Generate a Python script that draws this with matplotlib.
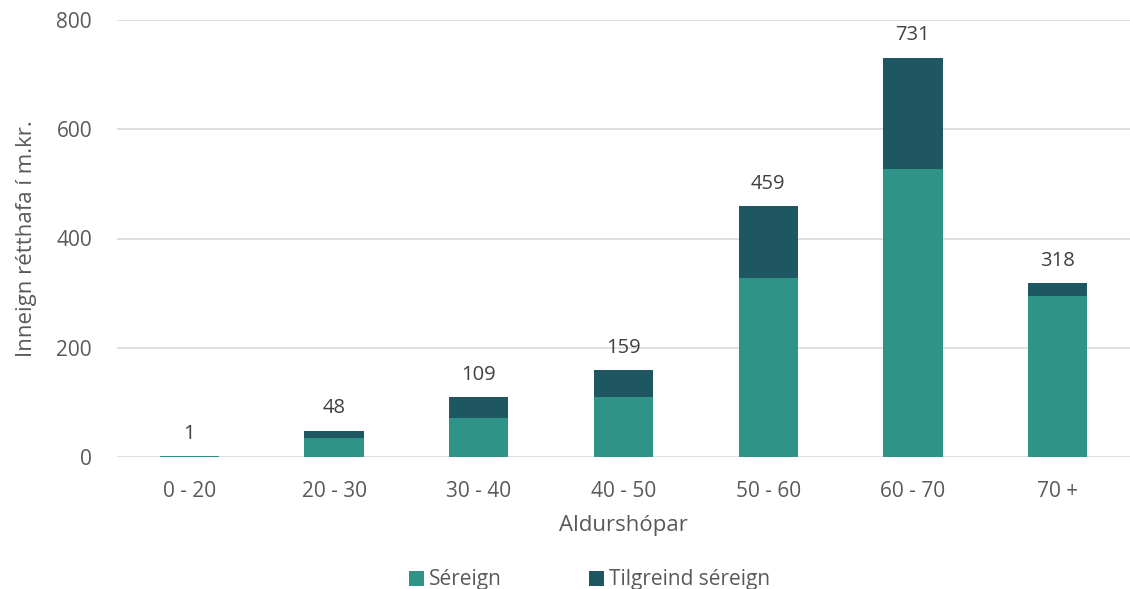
import numpy as np
import matplotlib.pyplot as plt

plt.rcParams['font.family'] = ['Open Sans', 'DejaVu Sans']

# Inneign eftir aldurshópum (m.kr.)
aldurshopar = ["0 - 20", "20 - 30", "30 - 40", "40 - 50", "50 - 60", "60 - 70", "70 +"]
sereign = [1, 34, 71, 109, 327, 527, 294]
tilgreind = [0, 14, 38, 50, 132, 204, 24]
samtals = [1, 48, 109, 159, 459, 731, 318]

col_ser = "#2f9487"
col_til = "#1e5662"
txt_col = "#595959"

fig = plt.figure(figsize=(11.3, 5.89), dpi=100)
ax = fig.add_axes([117 / 1130, 1 - 457 / 589, 1 - 117 / 1130, (457 - 20) / 589])

x = np.arange(len(aldurshopar))
w = 0.41
ax.bar(x, sereign, w, color=col_ser, label="Séreign", zorder=3)
ax.bar(x, tilgreind, w, bottom=sereign, color=col_til, label="Tilgreind séreign", zorder=3)

for xi, tot in zip(x, samtals):
    ax.annotate(str(tot), (xi, tot), xytext=(0, 9), textcoords="offset points",
                ha="center", va="bottom", fontsize=14.5, color="#404040")

ax.set_xlim(-0.5, len(aldurshopar) - 0.5)
ax.set_ylim(0, 800)
ax.set_yticks(range(0, 801, 200))
ax.set_xticks(x)
ax.set_xticklabels(aldurshopar)
ax.tick_params(axis="both", length=0, labelsize=15, colors=txt_col)
ax.tick_params(axis="y", pad=18)
ax.tick_params(axis="x", pad=17)
ax.grid(axis="y", color="#d9d9d9", linewidth=1.2, zorder=0)
for s in ax.spines.values():
    s.set_visible(False)

ax.set_xlabel("Aldurshópar", fontsize=16, color=txt_col, labelpad=10)
ax.set_ylabel("Inneign rétthafa í m.kr.", fontsize=16, color=txt_col, labelpad=14)

fig.legend(loc="center", bbox_to_anchor=(0.522, 1 - 580 / 589), ncol=2, frameon=False,
           fontsize=15, labelcolor=txt_col, handlelength=0.7, handleheight=0.7,
           handletextpad=0.25, columnspacing=4.2)

fig.savefig("out.png", dpi=100)
